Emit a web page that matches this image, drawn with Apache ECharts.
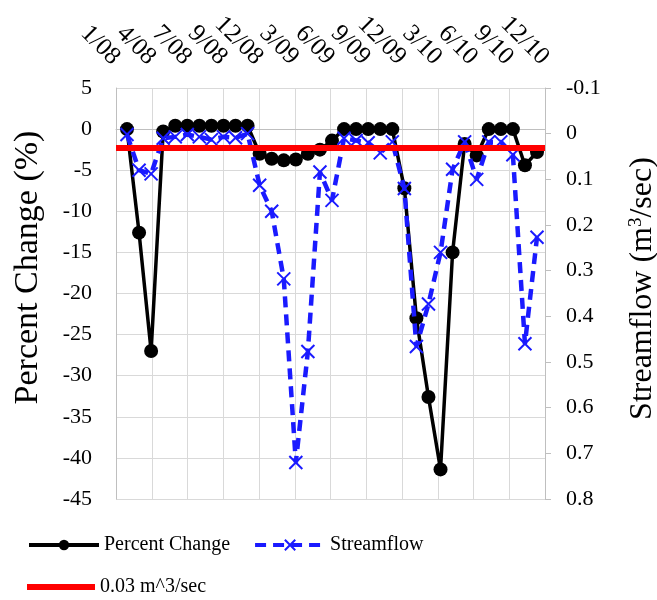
<!DOCTYPE html>
<html><head><meta charset="utf-8">
<script src="https://cdn.jsdelivr.net/npm/echarts@6/dist/echarts.min.js"></script>
<style>html,body{margin:0;padding:0;background:#fff}#c{width:657px;height:600px}</style>
</head><body><div id="c"></div>
<script>
// Top axis tick labels (at every third category boundary)
const tickLabels = ['1/08','4/08','7/08','9/08','12/08','3/09','6/09','9/09','12/09','3/10','6/10','9/10','12/10'];
// Sample sequence (35 samples)
const samples = ['1','2','3','4','5','6','7','8','9','10','11','12','13','14','15','16','17','18','19','20','21','22','23','24','25','26','27','28','29','30','31','32','33','34','35'];
// Percent change (%) - left axis
const percentChange = [0, -12.6, -27, -0.3, 0.4, 0.4, 0.4, 0.4, 0.4, 0.4, 0.4,
  -3.0, -3.6, -3.8, -3.7, -3.0, -2.5, -1.4, 0, 0, 0, 0, 0,
  -7.2, -23, -32.6, -41.4, -15, -1.8, -3.2, 0, 0, 0, -4.4, -2.8];
// Streamflow (m3/sec) - right axis (inverted)
const streamflow = [0.002, 0.08, 0.088, 0.01, 0.007, 0.002, 0.007, 0.013, 0.007, 0.009, 0.0,
  0.113, 0.17, 0.318, 0.72, 0.477, 0.084, 0.146, 0.01, 0.015, 0.02, 0.042, 0.018,
  0.12, 0.466, 0.373, 0.26, 0.078, 0.018, 0.10, 0.018, 0.018, 0.046, 0.46, 0.227];
// Threshold flow
const thresholdFlow = 0.03;

const FONT = "'Liberation Serif','Times New Roman',serif";
const GRAY = '#bfbfbf';
const GRID = '#d9d9d9';
const BLUE = '#1a1aff';

const chart = echarts.init(document.getElementById('c'), null, {renderer: 'canvas'});
chart.setOption({
  animation: false,
  backgroundColor: '#fff',
  grid: [
    {left: 116, top: 88, width: 429, height: 411, containLabel: false, outerBoundsMode: 'none'},
    {left: 127, top: 88, width: 410, height: 411, containLabel: false, outerBoundsMode: 'none'}
  ],
  legend: [
    {data: ['Percent Change', 'Streamflow'], left: 27, top: 535, padding: 0,
     itemWidth: 70, itemHeight: 13, itemGap: 23,
     lineStyle: {width: 4},
     textStyle: {fontFamily: FONT, fontSize: 20, color: '#000'}},
    {data: [{name: '0.03 m^3/sec', icon: 'rect'}], left: 27, top: 577, padding: 0,
     itemWidth: 68, itemHeight: 6,
     textStyle: {fontFamily: FONT, fontSize: 20, color: '#000'}}
  ],
  xAxis: [
    {gridIndex: 0, type: 'category', data: tickLabels, position: 'top', boundaryGap: false,
     axisLine: {show: true, lineStyle: {color: GRAY, width: 1}},
     axisTick: {show: false},
     axisLabel: {interval: 0, rotate: -45, margin: 27, fontFamily: FONT, fontSize: 25, color: '#000'},
     splitLine: {show: true, lineStyle: {color: GRID, width: 1}}},
    {gridIndex: 1, type: 'category', data: samples, boundaryGap: false, show: false}
  ],
  yAxis: [
    {gridIndex: 0, type: 'value', min: -45, max: 5, interval: 5, position: 'left',
     name: 'Percent Change (%)', nameLocation: 'middle', nameRotate: 90, nameGap: 71,
     nameTextStyle: {fontFamily: FONT, fontSize: 34, color: '#000', padding: [0, 0, 0, 52]},
     axisLine: {show: true, lineStyle: {color: GRAY}},
     axisTick: {show: false},
     axisLabel: {margin: 24, fontFamily: FONT, fontSize: 22, color: '#000'},
     splitLine: {show: true, lineStyle: {color: GRID, width: 1}}},
    {gridIndex: 0, type: 'value', min: -0.1, max: 0.8, interval: 0.1, position: 'right', inverse: true,
     name: 'Streamflow (m{sup|3}/sec)', nameLocation: 'middle', nameRotate: 90, nameGap: 82,
     nameTextStyle: {fontFamily: FONT, fontSize: 32, color: '#000', padding: [0, 0, 0, 10],
       rich: {sup: {fontFamily: FONT, fontSize: 19, color: '#000', verticalAlign: 'top', padding: [0, 0, 12, 0]}}},
     axisLine: {show: true, lineStyle: {color: GRAY}},
     axisTick: {show: true, inside: false, length: 6, lineStyle: {color: GRAY}},
     axisLabel: {margin: 21, fontFamily: FONT, fontSize: 22, color: '#000',
       formatter: v => String(+v.toFixed(1))},
     splitLine: {show: false}},
    {gridIndex: 1, type: 'value', min: -45, max: 5, interval: 5, show: false},
    {gridIndex: 1, type: 'value', min: -0.1, max: 0.8, interval: 0.1, inverse: true, show: false}
  ],
  series: [
    {name: 'Percent Change', type: 'line', xAxisIndex: 1, yAxisIndex: 2, data: percentChange,
     symbol: 'circle', symbolSize: 14, showAllSymbol: true, z: 2,
     lineStyle: {color: '#000', width: 3.5}, itemStyle: {color: '#000'}},
    {name: 'Streamflow', type: 'line', xAxisIndex: 1, yAxisIndex: 3, data: streamflow,
     symbol: 'path://M0,0L10,10M10,0L0,10', symbolSize: 13, showAllSymbol: true, z: 3,
     lineStyle: {color: BLUE, width: 4.5, type: [11, 7]},
     itemStyle: {color: BLUE, borderColor: BLUE, borderWidth: 2}},
    {name: '0.03 m^3/sec', type: 'line', xAxisIndex: 0, yAxisIndex: 1, data: [], z: 4,
     symbol: 'none', lineStyle: {color: '#ff0000', width: 6}, itemStyle: {color: '#ff0000'},
     markLine: {silent: true, symbol: 'none', label: {show: false},
       lineStyle: {color: '#ff0000', width: 6, type: 'solid'},
       data: [{yAxis: thresholdFlow}]}}
  ]
});
</script>
</body></html>
